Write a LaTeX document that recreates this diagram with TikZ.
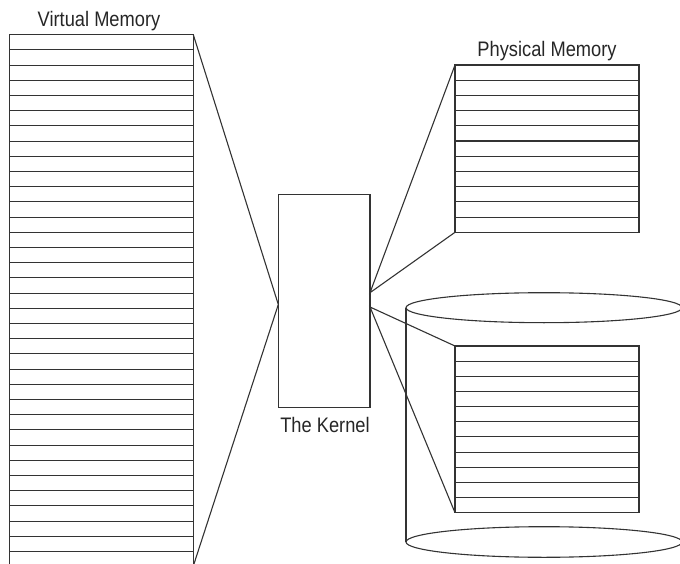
\documentclass[tikz,border=0pt]{standalone}
\usepackage{fontspec}
\setmainfont{Liberation Sans}[FakeStretch=0.87]
\usetikzlibrary{shapes.geometric}
\begin{document}
\begin{tikzpicture}[x=1pt,y=-1pt,line width=1.1pt,color=black!80,
  membox/.style={draw,inner sep=0pt,outer sep=0pt,anchor=north west},
  lbl/.style={inner sep=0pt,anchor=base,text=black!85,font=\fontsize{21}{24}\selectfont}]
\useasboundingbox (0,0) rectangle (680,564);
\clip (0,0) rectangle (680,564);
% Virtual memory
\node[membox,minimum width=183.8pt,minimum height=531.3pt] (vm) at (9.5,34.7) {};
\foreach \i in {1,...,34} \draw (9.5,{34.7+\i*15.2}) -- (193.3,{34.7+\i*15.2});
\node[lbl] (vmlbl) at (99,26.7) {Virtual Memory};
% Kernel
\node[membox,minimum width=91.7pt,minimum height=213.4pt] (k) at (278.3,194.3) {};
\node[lbl] (klbl) at (325,432.7) {The Kernel};
\coordinate (kl) at (278.3,304.5);
\coordinate (kru) at (370,292.7);
\coordinate (krl) at (370,307);
% Physical memory
\node[membox,minimum width=184pt,minimum height=167.3pt] (pm) at (455,65) {};
\foreach \i in {1,...,10} \draw (455,{65+\i*15.21}) -- (639,{65+\i*15.21});
\node[lbl] (pmlbl) at (547,56.7) {Physical Memory};
% Disk cylinder
\node[draw,ellipse,inner sep=0pt,outer sep=0pt,minimum width=276pt,minimum height=30pt] (ctop) at (544,307.7) {};
\node[draw,ellipse,inner sep=0pt,outer sep=0pt,minimum width=276pt,minimum height=30.6pt] (cbot) at (544,542) {};
\draw (ctop.west) -- (cbot.west);
\draw (ctop.east) -- (cbot.east);
% Swap memory
\node[membox,minimum width=184pt,minimum height=166.7pt] (dm) at (455,346) {};
\foreach \i in {1,...,10} \draw (455,{346+\i*15.15}) -- (639,{346+\i*15.15});
% Connectors
\draw (vm.north east) -- (kl) -- (vm.south east);
\draw (pm.north west) -- (kru) -- (pm.south west);
\draw (dm.north west) -- (krl) -- (dm.south west);
\end{tikzpicture}
\end{document}
